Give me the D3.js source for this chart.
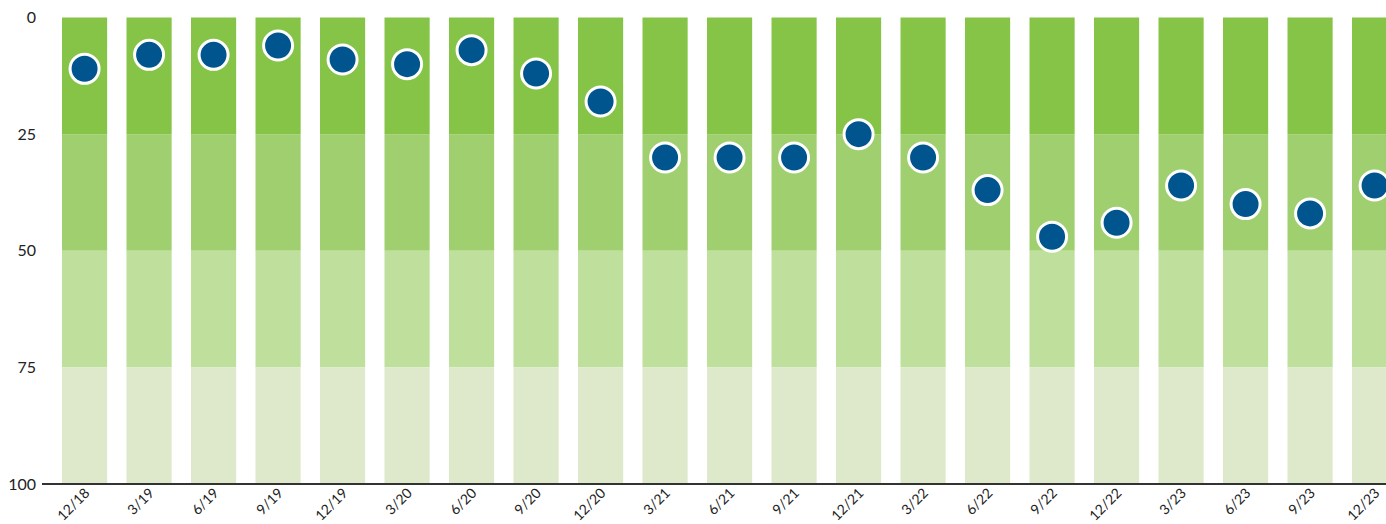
<!DOCTYPE html>
<html>
<head>
<meta charset="utf-8">
<script src="https://cdn.jsdelivr.net/npm/d3@7"></script>
<style>
  body { margin: 0; background: #fff; }
  text { font-family: Lato, "Open Sans", sans-serif; }
</style>
</head>
<body>
<div id="chart"></div>
<script>
// quarters along the bottom
const quarters = ["12/18", "3/19", "6/19", "9/19", "12/19", "3/20", "6/20", "9/20", "12/20",
  "3/21", "6/21", "9/21", "12/21", "3/22", "6/22", "9/22", "12/22", "3/23", "6/23", "9/23", "12/23"];

// percentile rank for each quarter (0 = top)
const ranks = [11, 8, 8, 6, 9, 10, 7, 12, 18, 30, 30, 30, 25, 30, 37, 47, 44, 36, 40, 42, 36];

// quartile bands behind each bar
const bandStarts = [0, 25, 50, 75];
const bandColors = ["#85c447", "#a0cf6f", "#bfdf9c", "#dde9ca"];

const yTicks = [0, 25, 50, 75, 100];

const width = 1386,
    height = 524;

const svg = d3.select("#chart")
  .append("svg")
    .attr("width", width)
    .attr("height", height);

// x: band scale, first bar starts at 62 with a step of ~64.5
const x = d3.scaleBand()
  .domain(quarters)
  .range([62 - 0.15 * 64.5, 62 - 0.15 * 64.5 + 64.5 * quarters.length])
  .paddingInner(0.3)
  .paddingOuter(0.15);

const y = d3.scaleLinear()
  .domain([0, 100])
  .range([17.5, 484]);

// bars, one stack of four quartiles per quarter
const cells = [];
quarters.forEach(q => bandStarts.forEach((b, i) => cells.push({q, b, i})));

svg.selectAll("rect.band")
  .data(cells)
  .join("rect")
    .attr("class", "band")
    .attr("x", d => x(d.q))
    .attr("width", x.bandwidth())
    .attr("y", d => y(d.b))
    .attr("height", d => y(d.b + 25) - y(d.b))
    .attr("fill", d => bandColors[d.i]);

// y axis labels
svg.append("g")
  .attr("transform", "translate(36,0)")
  .call(d3.axisLeft(y).tickValues(yTicks).tickSize(0).tickPadding(0))
  .call(g => g.select(".domain").remove())
  .call(g => g.selectAll("text")
    .attr("font-size", 16)
    .attr("fill", "#222")
    .attr("font-family", "Lato, 'Open Sans', sans-serif"));

// x axis
svg.append("g")
  .attr("transform", `translate(0,${y(100)})`)
  .call(d3.axisBottom(x).tickSize(0).tickPadding(0))
  .call(g => g.select(".domain").remove())
  .call(g => g.selectAll("text")
    .attr("font-size", 14)
    .attr("fill", "#222")
    .attr("font-family", "Lato, 'Open Sans', sans-serif")
    .attr("text-anchor", "end")
    .attr("dy", "0")
    .attr("transform", "translate(6,10) rotate(-45)"));

// baseline
svg.append("line")
  .attr("x1", 42)
  .attr("x2", width)
  .attr("y1", y(100))
  .attr("y2", y(100))
  .attr("stroke", "#333")
  .attr("stroke-width", 2);

// rank dots
svg.selectAll("circle.rank")
  .data(ranks)
  .join("circle")
    .attr("class", "rank")
    .attr("cx", (d, i) => x(quarters[i]) + x.bandwidth() / 2)
    .attr("cy", d => y(d))
    .attr("r", 14.5)
    .attr("fill", "#00558f")
    .attr("stroke", "#fff")
    .attr("stroke-width", 3);
</script>
</body>
</html>
